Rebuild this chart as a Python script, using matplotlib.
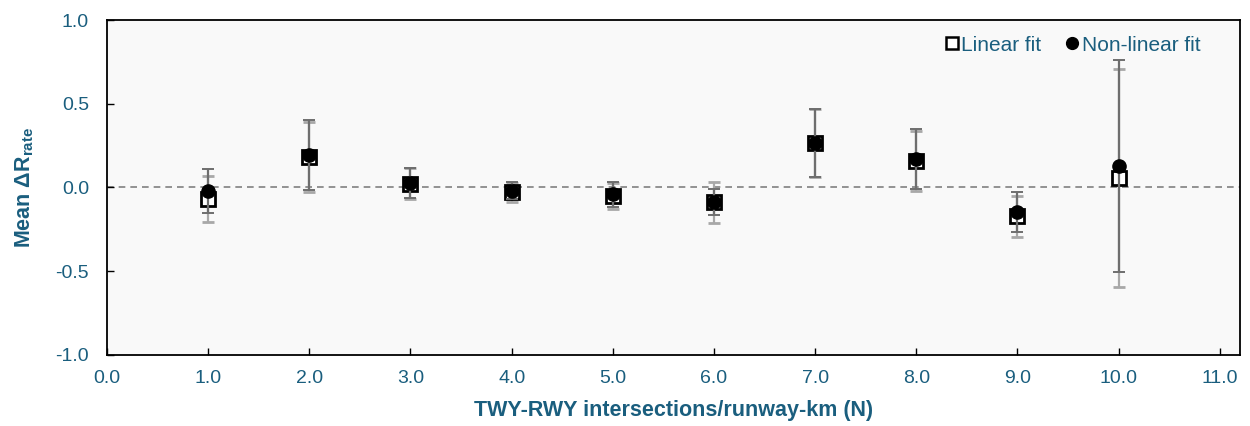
import matplotlib
matplotlib.use('Agg')
import matplotlib.pyplot as plt
from matplotlib.lines import Line2D
import numpy as np

# 数据
n_values = [1.0, 2.0, 3.0, 4.0, 5.0, 6.0, 7.0, 8.0, 9.0, 10.0]
linear_mean = [-0.067, 0.180, 0.023, -0.030, -0.051, -0.088, 0.265, 0.160, -0.173, 0.055]
linear_err = [0.137, 0.209, 0.091, 0.055, 0.077, 0.122, 0.204, 0.180, 0.124, 0.651]
nonlinear_mean = [-0.021, 0.194, 0.025, -0.020, -0.042, -0.087, 0.265, 0.170, -0.146, 0.129]
nonlinear_err = [0.132, 0.209, 0.091, 0.050, 0.076, 0.077, 0.204, 0.180, 0.121, 0.632]

x_ticks = np.arange(0, 11.5, 1.0)
y_ticks = [-1.0, -0.5, 0.0, 0.5, 1.0]

TEXT_COLOR = '#1a5e7e'
plt.rcParams['font.family'] = ['Liberation Sans', 'DejaVu Sans']
plt.rcParams['mathtext.fontset'] = 'custom'
plt.rcParams['mathtext.rm'] = 'Liberation Sans'
plt.rcParams['mathtext.bf'] = 'Liberation Sans:bold'

fig = plt.figure(figsize=(12.5, 4.26), dpi=100)
ax = fig.add_axes([0.0856, 0.167, 0.9064, 0.786])
ax.set_facecolor('#f9f9f9')

# 零线
ax.axhline(0, color='#808080', linestyle=(0, (4, 3)), linewidth=1.2, zorder=1)

# 线性拟合
ax.errorbar(n_values, linear_mean, yerr=linear_err, fmt='s', markersize=10,
            markerfacecolor='white', markeredgecolor='black', markeredgewidth=2,
            ecolor='#a8a8a8', elinewidth=1.6, capsize=4.5, capthick=1.4, zorder=3)

# 非线性拟合
ax.errorbar(n_values, nonlinear_mean, yerr=nonlinear_err, fmt='o', markersize=9.5,
            markerfacecolor='black', markeredgecolor='black',
            ecolor='#6e6e6e', elinewidth=1.6, capsize=4.5, capthick=1.4, zorder=4)

ax.set_xlim(0, 11.2)
ax.set_ylim(-1, 1)
ax.set_xticks(x_ticks)
ax.set_xticklabels([f'{v:.1f}' for v in x_ticks])
ax.set_yticks(y_ticks)
ax.set_yticklabels([f'{v:.1f}' for v in y_ticks])
ax.tick_params(direction='in', length=5, width=1, labelsize=14, labelcolor=TEXT_COLOR)
ax.tick_params(axis='y', pad=13)
ax.tick_params(axis='x', pad=11)

for sp in ax.spines.values():
    sp.set_linewidth(1.3)
    sp.set_color('black')

ax.set_xlabel('TWY-RWY intersections/runway-km (N)', fontsize=15.5, fontweight='bold',
              color=TEXT_COLOR, labelpad=9)
ax.set_ylabel(r'Mean $\mathbf{\Delta R_{rate}}$', fontsize=15.5, fontweight='bold',
              color=TEXT_COLOR, labelpad=14)

handles = [
    Line2D([], [], linestyle='none', marker='s', markersize=8.5, markerfacecolor='white',
           markeredgecolor='black', markeredgewidth=1.8),
    Line2D([], [], linestyle='none', marker='o', markersize=8.5, markerfacecolor='black',
           markeredgecolor='black'),
]
leg = ax.legend(handles, ['Linear fit', 'Non-linear fit'], loc='center right',
                bbox_to_anchor=(0.965, 0.925), ncol=2, frameon=False, fontsize=15,
                handlelength=0.6, handletextpad=0.15, columnspacing=1.2, borderaxespad=0,
                borderpad=0)
for t in leg.get_texts():
    t.set_color(TEXT_COLOR)

plt.savefig('out.png', dpi=100)
